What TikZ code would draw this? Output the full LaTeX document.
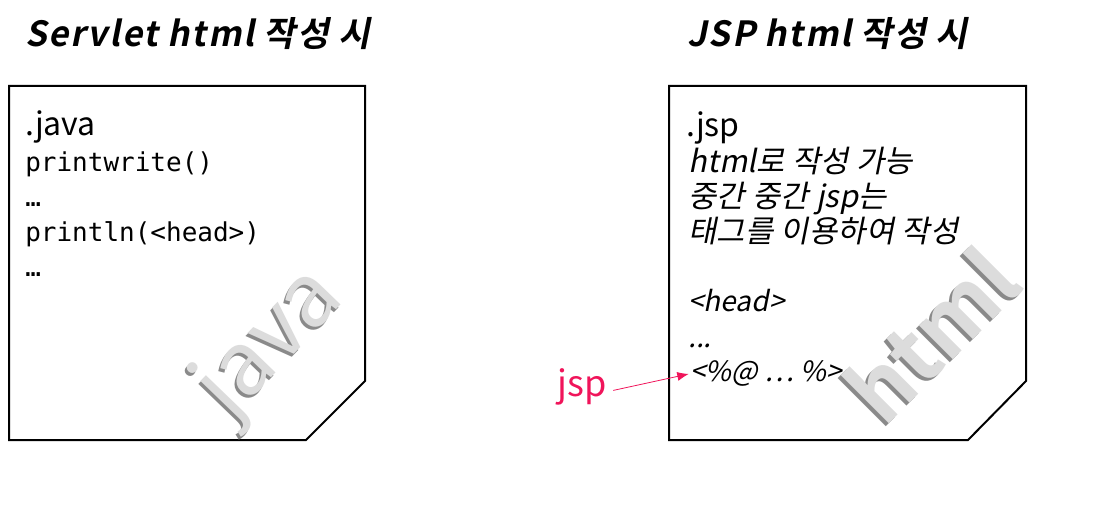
\documentclass[tikz,border=0pt]{standalone}
\usepackage{fontspec}
\setmainfont{Noto Sans CJK KR}[ItalicFont={Noto Sans CJK KR},ItalicFeatures={FakeSlant=0.2},
  BoldFont={Noto Sans CJK KR Bold},BoldItalicFont={Noto Sans CJK KR Bold},BoldItalicFeatures={FakeSlant=0.2}]
\newfontfamily\codefont{DejaVu Sans Mono}
\usetikzlibrary{arrows.meta,positioning}
\definecolor{jspred}{HTML}{F0145A}
\definecolor{markgray}{HTML}{DCDCDC}
\definecolor{markshade}{HTML}{8A8A8A}
\tikzset{
  titletext/.style={anchor=base west,inner sep=0pt,font=\fontsize{26}{30}\selectfont\bfseries\itshape\addfontfeature{LetterSpace=5}},
  pagebox/.style={draw=black,line width=1.5pt,line join=miter,fill=white},
  exttext/.style={anchor=base west,inner sep=0pt,font=\fontsize{24}{28}\selectfont},
  codeline/.style={anchor=base west,inner sep=0pt,font=\codefont\fontsize{19.5}{23}\selectfont},
  jspline/.style={anchor=base west,inner sep=0pt,font=\fontsize{21}{25}\selectfont\itshape},
  noteline/.style={jspline,font=\fontsize{23}{27}\selectfont\itshape\addfontfeature{LetterSpace=1}},
  markshadow/.style={text=markshade,inner sep=0pt},
  markface/.style={text=markgray,inner sep=0pt},
  jsparrow/.style={-{Latex[length=3mm,width=2.4mm]},draw=jspred,line width=0.6pt}
}

\begin{document}
\begin{tikzpicture}[x=0.75pt,y=-0.75pt]
    \useasboundingbox (0,0) rectangle (1119,523);

    % titles
    \node[titletext] (servlettitle) at (25,47) {Servlet html 작성 시};
    \node[titletext] (jsptitle) at (687,47) {JSP html 작성 시};

    % servlet page
    \draw[pagebox] (9,86) -- (365,86) -- (365,381) -- (306,440) -- (9,440) -- cycle;
    \node[markshadow,rotate=46,font=\fontsize{66}{66}\selectfont] (javashade) at (269,347) {java};
    \node[markface,rotate=46,font=\fontsize{66}{66}\selectfont] (javamark) at (271,344) {java};
    \node[exttext] (javaext) at (25,136) {.java};
    \node[codeline] (codeA) at (25,172) {printwrite()};
    \node[codeline] (codeB) at (25,207) {…};
    \node[codeline] (codeC) at (25,242) {println(<head>)};
    \node[codeline] (codeD) at (25,277) {…};

    % jsp page
    \draw[pagebox] (669,86) -- (1026,86) -- (1026,381) -- (968,440) -- (669,440) -- cycle;
    \node[markshadow,rotate=45,font=\fontsize{64}{64}\selectfont\bfseries] (htmlshade) at (928,337) {html};
    \node[markface,rotate=45,font=\fontsize{64}{64}\selectfont\bfseries] (htmlmark) at (931,334) {html};
    \node[exttext] (jspext) at (686,137) {.jsp};
    \node[noteline] (noteA) at (688,173) {html로 작성 가능};
    \node[noteline] (noteB) at (688,208) {중간 중간 jsp는};
    \node[noteline] (noteC) at (688,243) {태그를 이용하여 작성};
    \node[jspline] (headline) at (688,312) {<head>};
    \node[jspline] (dotline) at (688,348) {...};
    \node[jspline] (tagline) at (690,382) {<\%@ … \%>};

    % jsp pointer
    \node[anchor=base west,inner sep=0pt,text=jspred,font=\fontsize{27}{32}\selectfont] (jsplabel) at (557,396) {jsp};
    \draw[jsparrow] ([xshift=5pt,yshift=-3pt]jsplabel.east) -- ([xshift=-1pt]tagline.west);
  \end{tikzpicture}
\end{document}
